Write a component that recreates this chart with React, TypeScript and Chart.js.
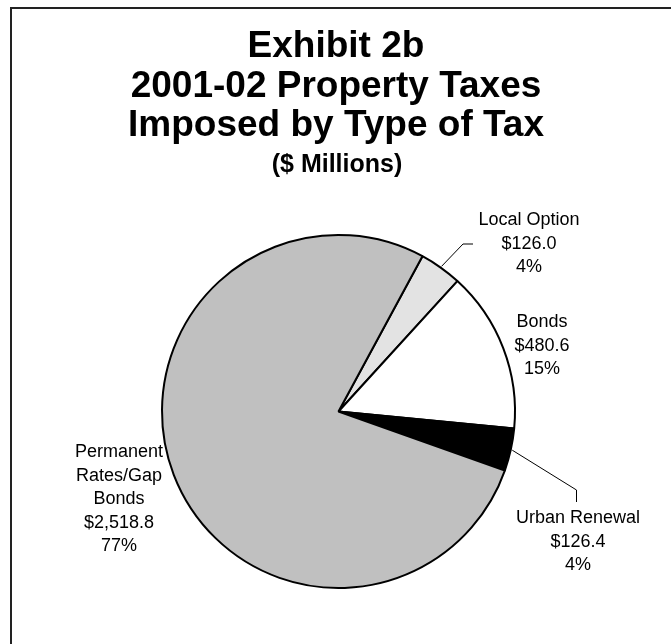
import React, { useEffect, useRef } from "react";
import { Chart, registerables } from "chart.js";

Chart.register(...registerables);

const categories = ["Local Option", "Bonds", "Urban Renewal", "Permanent Rates/Gap Bonds"];
const labelLines = [["Local Option"], ["Bonds"], ["Urban Renewal"], ["Permanent", "Rates/Gap", "Bonds"]];
const values = [126.0, 480.6, 126.4, 2518.8];
const colors = ["#E3E3E3", "#FFFFFF", "#000000", "#C0C0C0"];
const titleLines = ["Exhibit 2b", "2001-02 Property Taxes", "Imposed by Type of Tax"];
const subtitle = "($ Millions)";

// label anchor (center x, first baseline y) and leader line elbows
const labelPos = [
  { x: 529, y: 225, leader: [[463, 244], [473, 244]] },
  { x: 542, y: 327, leader: null },
  { x: 578, y: 523, leader: [[576.5, 490], [576.5, 502]] },
  { x: 119, y: 457, leader: null },
];

const fmtMoney = (v: number) =>
  "$" + v.toLocaleString("en-US", { minimumFractionDigits: 1, maximumFractionDigits: 1 });

const overlay = {
  id: "overlay",
  afterDraw(chart: any) {
    const ctx = chart.ctx as CanvasRenderingContext2D;
    const total = values.reduce((a, b) => a + b, 0);
    ctx.save();
    // frame
    ctx.fillStyle = "#222";
    ctx.fillRect(10, 7, 661, 2);
    ctx.fillRect(10, 7, 2, 637);

    // title
    ctx.fillStyle = "#000";
    ctx.textAlign = "center";
    ctx.textBaseline = "alphabetic";
    ctx.font = 'bold 37px "Liberation Sans", Arial, sans-serif';
    const tBase = [57, 97, 136];
    titleLines.forEach((t, i) => ctx.fillText(t, 336, tBase[i]));
    ctx.font = 'bold 25px "Liberation Sans", Arial, sans-serif';
    ctx.fillText(subtitle, 337, 172);

    // data labels
    const meta = chart.getDatasetMeta(0);
    ctx.font = '18px "Liberation Sans", Arial, sans-serif';
    ctx.strokeStyle = "#000";
    ctx.lineWidth = 1;
    values.forEach((v, i) => {
      const p = labelPos[i];
      const lines = [...labelLines[i], fmtMoney(v), Math.round((v / total) * 100) + "%"];
      lines.forEach((l, j) => ctx.fillText(l, p.x, p.y + j * 23.5));
      if (p.leader) {
        const arc = meta.data[i] as any;
        const mid = (arc.startAngle + arc.endAngle) / 2;
        const r = arc.outerRadius + 1.5;
        ctx.beginPath();
        ctx.moveTo(arc.x + Math.cos(mid) * r, arc.y + Math.sin(mid) * r);
        p.leader.forEach(([x, y]) => ctx.lineTo(x, y));
        ctx.stroke();
      }
    });
    ctx.restore();
  },
};

export default function App() {
  const ref = useRef<HTMLCanvasElement>(null);
  useEffect(() => {
    if (!ref.current) return;
    const chart = new Chart(ref.current, {
      type: "pie",
      data: {
        labels: categories,
        datasets: [
          {
            data: values,
            backgroundColor: colors,
            borderColor: "#000",
            borderWidth: 2,
            hoverBorderWidth: 2,
          },
        ],
      },
      options: {
        animation: false,
        responsive: false,
        devicePixelRatio: 1,
        rotation: 28.4,
        layout: { padding: { left: 161, right: 155, top: 234, bottom: 55 } },
        plugins: {
          legend: { display: false },
          tooltip: { enabled: false },
          title: { display: false },
        },
        events: [],
      },
      plugins: [overlay],
    });
    return () => chart.destroy();
  }, []);
  return (
    <div style={{ position: "fixed", left: 0, top: 0, width: 671, height: 644, background: "#fff" }}>
      <canvas ref={ref} width={671} height={644} style={{ display: "block" }} />
    </div>
  );
}
